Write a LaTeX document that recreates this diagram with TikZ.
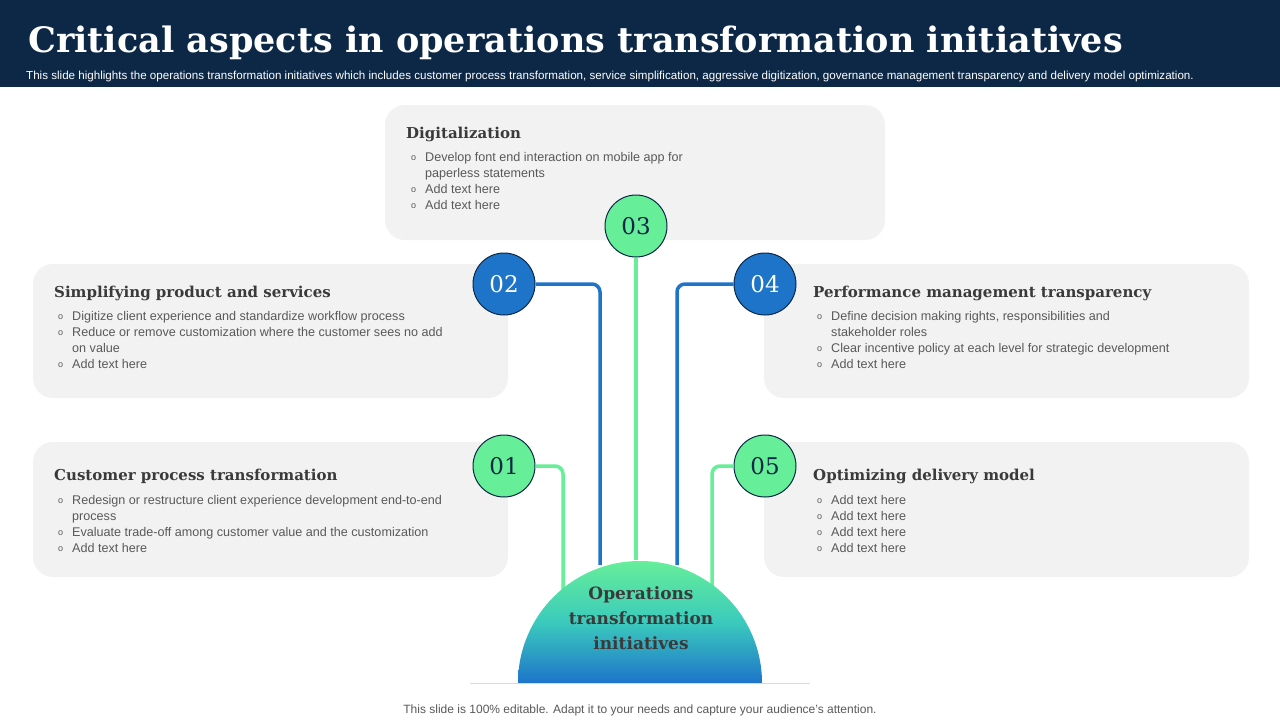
\documentclass[tikz,border=0pt]{standalone}
\usepackage{fontspec}
\setmainfont{Liberation Serif}
\setsansfont{Liberation Sans}
\newfontfamily\hs{DejaVu Serif}
\definecolor{navy}{HTML}{0C2846}
\definecolor{boxg}{HTML}{F2F2F2}
\definecolor{grn}{HTML}{66EE99}
\definecolor{blu}{HTML}{1E74C9}
\definecolor{txt}{HTML}{595959}
\definecolor{hd}{HTML}{3A3A3A}
\newcommand\bu{\llap{\raisebox{0.5pt}{\fontsize{9}{9}\selectfont o}\hspace{9pt}}}
\tikzset{
 card/.style={fill=boxg,rounded corners=20pt,draw=none},
 head/.style={anchor=west,font=\hs\bfseries\fontsize{15}{20}\selectfont,text=hd,inner sep=0},
 body/.style={anchor=north west,align=left,font=\sffamily\fontsize{12.6}{16}\selectfont,text=txt,inner sep=0},
 gc/.style={circle,minimum size=62pt,fill=grn,draw=navy,line width=1pt,font=\hs\fontsize{23}{23}\selectfont,text=navy,inner sep=0},
 bc/.style={circle,minimum size=62pt,fill=blu,draw=navy,line width=1pt,font=\hs\fontsize{23}{23}\selectfont,text=white,inner sep=0},
 gl/.style={draw=grn,line width=3.5pt,rounded corners=8pt},
 bl/.style={draw=blu,line width=3.5pt,rounded corners=8pt},
}
\begin{document}
\begin{tikzpicture}[x=1pt,y=-1pt]
\useasboundingbox (0,0) rectangle (1280,720);
\fill[white] (0,0) rectangle (1280,720);
\fill[navy] (0,0) rectangle (1280,87);
\node[anchor=west,inner sep=0,text=white,font=\hs\bfseries\fontsize{35}{40}\selectfont] (title) at (28,43) {Critical aspects in operations transformation initiatives};
\node[anchor=west,inner sep=0,text=white,font=\sffamily\fontsize{11.6}{12}\selectfont] (sub) at (26,76) {This slide highlights the operations transformation initiatives which includes customer process transformation, service simplification, aggressive digitization, governance management transparency and delivery model optimization.};
% cards
\path[card] (385,105) rectangle (885,240);
\path[card] (33,264) rectangle (508,398);
\path[card] (764,264) rectangle (1249,398);
\path[card] (33,442) rectangle (508,577);
\path[card] (764,442) rectangle (1249,577);
% texts
\node[head] (h3) at (406,134) {Digitalization};
\node[body] (b3) at (425,152) {\bu Develop font end interaction on mobile app for\\ paperless statements\\ \bu Add text here\\ \bu Add text here};
\node[head] (h2) at (54,293) {Simplifying product and services};
\node[body] (b2) at (72,311) {\bu Digitize client experience and standardize workflow process\\ \bu Reduce or remove customization where the customer sees no add\\ on value\\ \bu Add text here};
\node[head] (h4) at (813,293) {Performance management transparency};
\node[body] (b4) at (831,311) {\bu Define decision making rights, responsibilities and\\ stakeholder roles\\ \bu Clear incentive policy at each level for strategic development\\ \bu Add text here};
\node[head] (h1) at (54,476) {Customer process transformation};
\node[body] (b1) at (72,495) {\bu Redesign or restructure client experience development end-to-end\\ process\\ \bu Evaluate trade-off among customer value and the customization\\ \bu Add text here};
\node[head] (h5) at (813,476) {Optimizing delivery model};
\node[body] (b5) at (831,495) {\bu Add text here\\ \bu Add text here\\ \bu Add text here\\ \bu Add text here};
% connectors
\coordinate (e3) at (636,560);
\coordinate (k2) at (600,284); \coordinate (e2) at (600,565);
\coordinate (k4) at (677,284); \coordinate (e4) at (677,565);
\coordinate (k1) at (563,466); \coordinate (e1) at (563,590);
\coordinate (k5) at (712,466); \coordinate (e5) at (712,590);
\node[gc] (c3) at (636,226) {03};
\node[bc] (c2) at (504,284) {02};
\node[bc] (c4) at (765,284) {04};
\node[gc] (c1) at (504,466) {01};
\node[gc] (c5) at (765,466) {05};
\draw[gl] (c3.south) -- (e3);
\draw[bl] (c2.east) -- (k2) -- (e2);
\draw[bl] (c4.west) -- (k4) -- (e4);
\draw[gl] (c1.east) -- (k1) -- (e1);
\draw[gl] (c5.west) -- (k5) -- (e5);
% half circle
\shade[top color=grn,bottom color=blu,middle color=grn!60!blu!80!cyan] (518,683) arc[start angle=180,end angle=360,radius=122] -- cycle;
\draw[gray!30,line width=0.6pt] (470,683) -- (810,683);
\node[align=center,inner sep=0,text=hd,font=\hs\bfseries\fontsize{17}{25}\selectfont] (core) at (641,618) {Operations\\ transformation\\ initiatives};
\node[inner sep=0,text=txt,font=\sffamily\fontsize{12}{12}\selectfont] (foot) at (640,710) {This slide is 100\% editable. Adapt it to your needs and capture your audience's attention.};
\end{tikzpicture}
\end{document}
